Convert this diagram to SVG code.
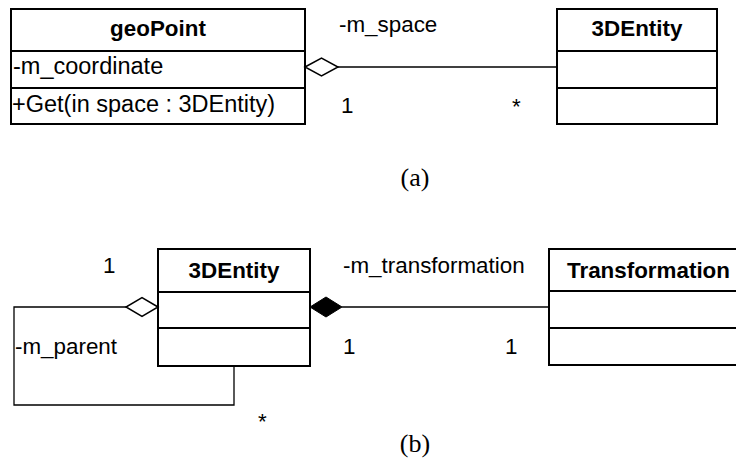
<svg xmlns="http://www.w3.org/2000/svg" width="736" height="464" viewBox="0 0 736 464">
<style>
.box{fill:#fff;stroke:#000;stroke-width:2}
.div{stroke:#000;stroke-width:2}
.t{font-family:"Liberation Sans",Arial,sans-serif;font-size:22.4px;fill:#000}
.m{font-size:23.5px}
.b{font-weight:bold;text-anchor:middle}
.cap{font-family:"Liberation Serif","Times New Roman",serif;font-size:26px;fill:#000;text-anchor:middle}
.ln{fill:none;stroke:#000;stroke-width:1.3}
</style>
<rect width="736" height="464" fill="#fff"/>
<g id="geoPoint">
<rect class="box" x="11" y="9" width="294" height="115"/>
<line class="div" x1="11" y1="51" x2="305" y2="51"/>
<line class="div" x1="11" y1="88" x2="305" y2="88"/>
<text class="t b" x="158" y="36">geoPoint</text>
<text class="t m" x="13" y="74">-m_coordinate</text>
<text class="t m" x="12" y="112">+Get(in space : 3DEntity)</text>
</g>
<g id="entityA">
<rect class="box" x="557" y="9" width="160" height="115"/>
<line class="div" x1="557" y1="51" x2="717" y2="51"/>
<line class="div" x1="557" y1="88" x2="717" y2="88"/>
<text class="t b" x="637" y="36">3DEntity</text>
</g>
<g id="entityB">
<rect class="box" x="158" y="249" width="152" height="117"/>
<line class="div" x1="158" y1="292" x2="310" y2="292"/>
<line class="div" x1="158" y1="328" x2="310" y2="328"/>
<text class="t b" x="234" y="278">3DEntity</text>
</g>
<g id="transformation">
<rect class="box" x="549" y="249" width="195" height="116"/>
<line class="div" x1="549" y1="291" x2="744" y2="291"/>
<line class="div" x1="549" y1="328" x2="744" y2="328"/>
<text class="t" x="567" y="278" font-weight="bold">Transformation</text>
</g>
<g id="connectors">
<line class="ln" x1="338" y1="67" x2="557" y2="67"/>
<polygon points="305,67 321.5,58 338,67 321.5,76" fill="#fff" stroke="#000" stroke-width="1.5"/>
<polyline class="ln" points="126,307 14,307 14,405 234,405 234,366"/>
<polygon points="158,307 142,297.5 126,307 142,316.5" fill="#fff" stroke="#000" stroke-width="1.5"/>
<line class="ln" x1="342" y1="307" x2="549" y2="307"/>
<polygon points="310,307 326,297 342,307 326,317" fill="#000" stroke="#000" stroke-width="1"/>
</g>
<g id="labels">
<text class="t" x="339" y="32">-m_space</text>
<text class="t" x="341" y="113">1</text>
<text class="t" x="512" y="114">*</text>
<text class="t" x="103" y="273">1</text>
<text class="t" x="343" y="273">-m_transformation</text>
<text class="t" x="15" y="354">-m_parent</text>
<text class="t" x="343" y="354">1</text>
<text class="t" x="505" y="354">1</text>
<text class="t" x="258" y="429">*</text>
<text class="cap" x="415" y="186">(a)</text>
<text class="cap" x="415" y="452">(b)</text>
</g>
</svg>
